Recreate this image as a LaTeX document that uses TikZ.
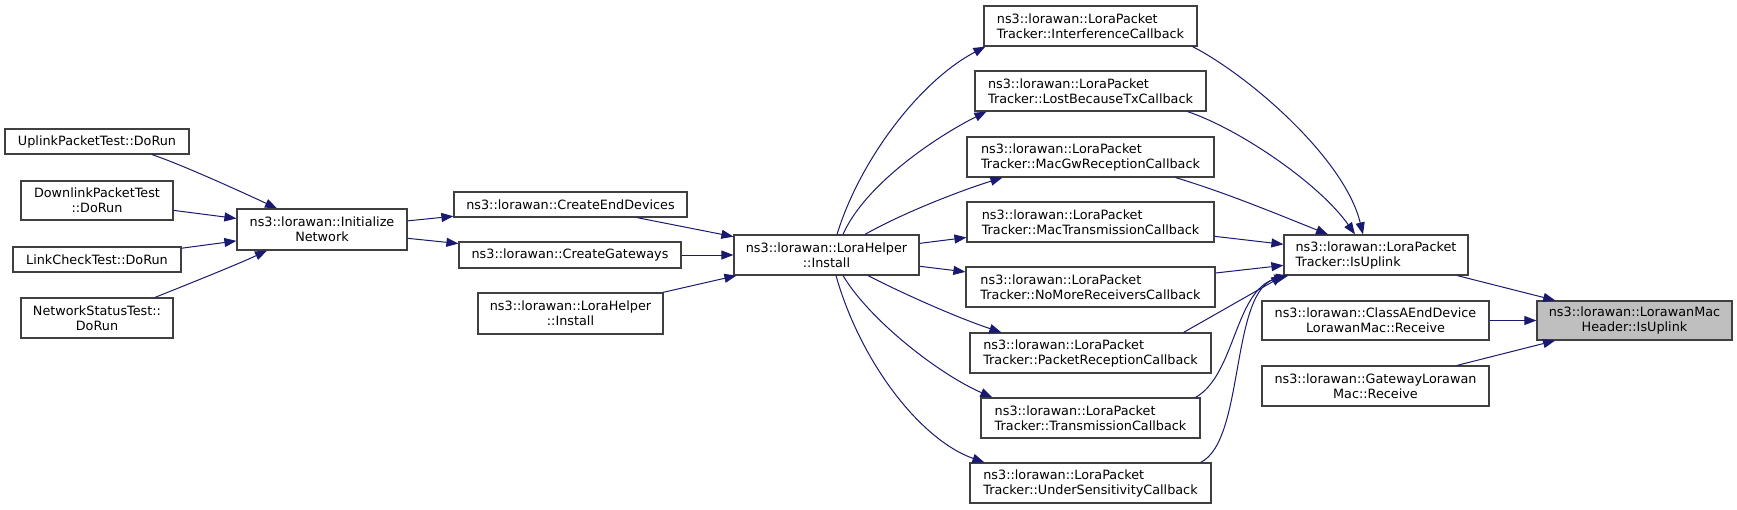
\documentclass[tikz,border=0pt]{standalone}
\usepackage{fontspec}
\setmainfont{DejaVu Sans}
\usetikzlibrary{arrows.meta}

\definecolor{hrana}{HTML}{191970}
\definecolor{ramecek}{HTML}{404040}
\definecolor{vybrany}{HTML}{BFBFBF}

\tikzset{
  funkce/.style={draw=ramecek, line width=1.2pt, fill=white, inner sep=0pt,
    font=\fontsize{12.8}{15}\selectfont, align=center, minimum height=40pt},
  jedna/.style={minimum height=25pt},
  tracker/.style={funkce, align=left},
  volani/.style={draw=hrana, line width=1pt, -{Triangle[length=12pt,width=9pt]}}
}

\begin{document}
\begin{tikzpicture}[x=1pt,y=-1pt]
            \useasboundingbox (0,0) rectangle (1737,509);

            % testy
            \node[funkce, jedna, minimum width=184pt] (up) at (97,141.5) {UplinkPacketTest::DoRun};
            \node[funkce, minimum width=152pt, minimum height=39pt] (down) at (97,200.5) {DownlinkPacketTest\\::DoRun};
            \node[funkce, jedna, minimum width=168pt] (link) at (97,259.5) {LinkCheckTest::DoRun};
            \node[funkce, minimum width=152pt] (nst) at (97,318) {NetworkStatusTest::\\DoRun};

            % inicializace
            \node[funkce, minimum width=170pt, minimum height=41pt] (init) at (322,229.5) {ns3::lorawan::Initialize\\Network};
            \node[funkce, jedna, minimum width=233pt] (ced) at (570.5,204.5) {ns3::lorawan::CreateEndDevices};
            \node[funkce, jedna, minimum width=222pt, minimum height=26pt] (cgw) at (570,255) {ns3::lorawan::CreateGateways};
            \node[funkce, minimum width=185pt, minimum height=41pt] (inst2) at (570.5,313.5) {ns3::lorawan::LoraHelper\\::Install};
            \node[funkce, minimum width=185pt] (inst) at (826.5,255) {ns3::lorawan::LoraHelper\\::Install};

            % callbacky trackeru
            \node[tracker, minimum width=213pt] (interf) at (1090.5,26) {ns3::lorawan::LoraPacket\\Tracker::InterferenceCallback};
            \node[tracker, minimum width=231pt] (lost) at (1090.5,91) {ns3::lorawan::LoraPacket\\Tracker::LostBecauseTxCallback};
            \node[tracker, minimum width=247pt] (macgw) at (1090.5,157) {ns3::lorawan::LoraPacket\\Tracker::MacGwReceptionCallback};
            \node[tracker, minimum width=247pt] (mactx) at (1090.5,222) {ns3::lorawan::LoraPacket\\Tracker::MacTransmissionCallback};
            \node[tracker, minimum width=249pt] (nomore) at (1090.5,287) {ns3::lorawan::LoraPacket\\Tracker::NoMoreReceiversCallback};
            \node[tracker, minimum width=241pt] (pktrx) at (1090.5,353) {ns3::lorawan::LoraPacket\\Tracker::PacketReceptionCallback};
            \node[tracker, minimum width=219pt] (tx) at (1090.5,418) {ns3::lorawan::LoraPacket\\Tracker::TransmissionCallback};
            \node[tracker, minimum width=241pt] (under) at (1090.5,483) {ns3::lorawan::LoraPacket\\Tracker::UnderSensitivityCallback};

            % prijem
            \node[tracker, minimum width=184pt] (isup) at (1376,255) {ns3::lorawan::LoraPacket\\Tracker::IsUplink};
            \node[funkce, minimum width=227pt, minimum height=39pt] (classa) at (1375.5,320.5) {ns3::lorawan::ClassAEndDevice\\LorawanMac::Receive};
            \node[funkce, minimum width=227pt] (gwmac) at (1375.5,386) {ns3::lorawan::GatewayLorawan\\Mac::Receive};

            % hlavicka
            \node[funkce, fill=vybrany, minimum width=195pt, minimum height=39pt] (hdr) at (1634.5,320.5) {ns3::lorawan::LorawanMac\\Header::IsUplink};

            % hrany vlevo
            \draw[volani] ([xshift=55pt]up.south) .. controls +(30,10) and +(-30,-14) .. ([xshift=-45pt]init.north);
            \draw[volani] (down) -- (init);
            \draw[volani] (link) -- (init);
            \draw[volani] ([xshift=58pt]nst.north) .. controls +(30,-12) and +(-30,14) .. ([xshift=-55pt]init.south);
            \draw[volani] (init) -- (ced);
            \draw[volani] (init) -- (cgw);
            \draw[volani] (ced) -- (inst);
            \draw[volani] (cgw) -- (inst);
            \draw[volani] (inst2) -- (inst);

            % hrany z Install
            \draw[volani] ([xshift=10.5pt]inst.north) .. controls +(23,-75) and +(-65,34) .. ([xshift=2pt]interf.south west);
            \draw[volani] ([xshift=16.5pt]inst.north) .. controls +(22,-50) and +(-50,25) .. ([xshift=12pt]lost.south west);
            \draw[volani] ([xshift=38.5pt]inst.north) .. controls +(35,-20) and +(-45,14) .. ([xshift=36pt]macgw.south west);
            \draw[volani] (inst) -- (mactx);
            \draw[volani] (inst) -- (nomore);
            \draw[volani] ([xshift=41.5pt]inst.south) .. controls +(35,18) and +(-45,-15) .. ([xshift=32pt]pktrx.north west);
            \draw[volani] ([xshift=16.5pt]inst.south) .. controls +(27,45) and +(-53,-23) .. ([xshift=12pt]tx.north west);
            \draw[volani] ([xshift=9.5pt]inst.south) .. controls +(24,85) and +(-65,-23) .. ([xshift=15pt]under.north west);

            % hrany do IsUplink
            \draw[volani] ([xshift=-5pt]interf.south east) .. controls +(58,30) and +(-18,-75) .. ([xshift=-13pt]isup.north);
            \draw[volani] ([xshift=-19pt]lost.south east) .. controls +(53,18) and +(-35,-50) .. ([xshift=-21pt]isup.north);
            \draw[volani] ([xshift=-39pt]macgw.south east) .. controls +(50,15) and +(-50,-20) .. ([xshift=-48pt]isup.north);
            \draw[volani] (mactx) -- (isup);
            \draw[volani] (nomore) -- (isup);
            \draw[volani] ([xshift=-28pt]pktrx.north east) -- (isup.south west);
            \draw[volani] ([xshift=-5pt]tx.north east) .. controls +(40,-23) and +(-52,15) .. ([xshift=3pt]isup.south west);
            \draw[volani] ([xshift=-11pt]under.north east) .. controls +(45,-22) and +(-59,13) .. ([xshift=5pt]isup.south west);

            % hrany do hlavicky
            \draw[volani] (isup) -- (hdr);
            \draw[volani] (classa) -- (hdr);
            \draw[volani] (gwmac) -- (hdr);
        \end{tikzpicture}
\end{document}
